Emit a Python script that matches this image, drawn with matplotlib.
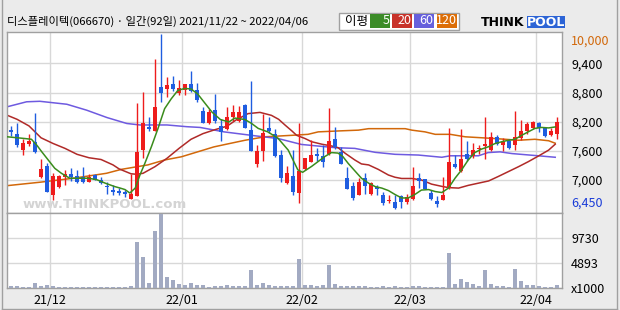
import matplotlib
matplotlib.use("Agg")
import matplotlib.pyplot as plt
from matplotlib.patches import Rectangle
from matplotlib.lines import Line2D

plt.rcParams['font.family'] = ['Noto Sans CJK KR', 'DejaVu Sans']

# 일봉 데이터 (2021/11/22 ~ 2022/04/06, 92 거래일)
opens = [8050, 7985, 7660, 7780, 7820, 7100, 7320, 6750, 6910, 7100,
         7170, 7130, 7100, 7000, 7150, 7050, 6930, 6850, 6830, 6810,
         6660, 6720, 7660, 8120, 8040, 8920, 8880, 9000, 8810, 8860,
         8990, 8860, 8450, 8190, 8470, 8130, 8070, 8320, 8250, 8570,
         8050, 7360, 7630, 8100, 7970, 7550, 6990, 7130, 6790, 7260,
         7400, 7580, 7540, 7570, 7880, 7620, 7090, 6930, 6750, 7080,
         6760, 6910, 6730, 6610, 6590, 6710, 6600, 6660, 7080, 7060,
         6780, 6610, 6640, 6880, 7370, 7230, 7580, 7530, 7670, 7730,
         7660, 7920, 7750, 7830, 7750, 7900, 8040, 8090, 8210, 8090,
         7950, 7970]
highs = [8130, 8200, 7885, 7980, 8400, 7470, 7380, 7180, 7150, 7240,
         7280, 7240, 7300, 7170, 7170, 7110, 7000, 6950, 6880, 6850,
         7170, 8610, 8820, 8320, 9490, 10000, 9130, 9150, 9070, 9000,
         9250, 9020, 8520, 8490, 8790, 8290, 8520, 8560, 8540, 8590,
         9060, 7750, 8390, 8320, 8070, 7650, 7320, 7650, 8200, 7500,
         7850, 7700, 7760, 8500, 8120, 7720, 7300, 7000, 7080, 7190,
         7010, 6950, 6810, 6730, 6750, 6750, 6760, 7300, 7190, 7060,
         6850, 6710, 7110, 8090, 7550, 8070, 7840, 7800, 7760, 8320,
         8020, 7950, 7890, 7870, 8440, 8270, 8230, 8250, 8220, 8100,
         8090, 8320]
lows = [7940, 7720, 7560, 7740, 7600, 7080, 6810, 6630, 6890, 6950,
        7030, 6980, 6980, 7000, 7040, 6970, 6760, 6730, 6750, 6700,
        6660, 6710, 7500, 8040, 8040, 8620, 8720, 8840, 8770, 8760,
        8820, 8620, 8190, 8170, 8190, 7830, 8050, 8250, 8220, 8090,
        7630, 7300, 7420, 7990, 7520, 7000, 6970, 6730, 6580, 7250,
        7400, 7430, 7300, 7550, 7670, 7370, 6860, 6630, 6750, 6760,
        6750, 6750, 6530, 6580, 6450, 6480, 6560, 6630, 6890, 6860,
        6630, 6500, 6630, 6860, 7280, 7210, 7430, 7500, 7580, 7480,
        7630, 7750, 7640, 7680, 7650, 7850, 7970, 8070, 8020, 7920,
        7940, 7880]
closes = [8010, 7760, 7800, 7830, 7620, 7260, 6810, 7130, 7130, 7170,
          7100, 7010, 7000, 7100, 7050, 6980, 6900, 6800, 6790, 6770,
          6760, 7620, 8200, 8070, 8520, 8810, 8970, 8880, 8900, 9000,
          8840, 8670, 8190, 8430, 8250, 8020, 8320, 8420, 8430, 8100,
          7630, 7630, 8000, 8040, 7540, 7090, 7190, 6800, 7230, 7500,
          7560, 7540, 7400, 7840, 7720, 7370, 6860, 6680, 7010, 6930,
          6990, 6860, 6580, 6640, 6480, 6600, 6690, 6930, 7030, 6860,
          6660, 6560, 6730, 7400, 7300, 7480, 7460, 7660, 7700, 7780,
          7920, 7780, 7820, 7700, 7920, 8040, 8170, 8230, 8090, 7940,
          8040, 8220]
volumes = [390, 390, 195, 195, 1040, 455, 650, 390, 260, 260,
           260, 260, 260, 260, 260, 260, 260, 260, 260, 260,
           455, 8840, 6045, 1040, 10985, 14300, 2145, 1625, 845, 650,
           1040, 650, 650, 260, 455, 455, 650, 455, 455, 455,
           3510, 650, 1040, 650, 455, 455, 455, 455, 5655, 650,
           585, 390, 585, 4485, 780, 455, 455, 455, 455, 455,
           260, 260, 455, 260, 455, 260, 260, 455, 455, 260,
           260, 260, 260, 6825, 780, 1755, 1170, 780, 455, 3510,
           780, 455, 455, 260, 3705, 1365, 650, 650, 455, 260,
           260, 585]

# 이동평균선 (그림에서 읽은 값: 봉 번호, 가격)
ma5_x = [-0.6, 2.3, 3.4, 4.3, 5.1, 6.2, 7.3, 8.4, 9.8, 11.2, 12.9, 14.3, 15.7, 17.3, 18.2,
         19.0, 19.8, 20.7, 21.5, 22.3, 23.4, 24.5, 25.6, 26.7, 27.8, 28.9, 30.0, 31.1, 32.2,
         33.5, 34.9, 36.3, 37.3, 39.0, 40.1, 41.2, 42.8, 44.5, 46.2, 47.0, 47.8, 48.6, 50.1,
         51.2, 52.3, 53.4, 54.5, 55.3, 56.2, 57.3, 58.4, 59.6, 60.7, 61.8, 62.9, 64.0, 65.1,
         66.2, 67.3, 68.4, 69.6, 70.7, 71.8, 72.9, 74.0, 75.1, 76.2, 77.3, 78.4, 79.6, 80.6,
         81.8, 82.9, 84.0, 85.1, 86.2, 87.3, 88.4, 89.6, 90.7]
ma5_y = [7920, 7885, 7870, 7750, 7620, 7450, 7280, 7180, 7080, 7080, 7080, 7050, 6980, 6910, 6880,
         6850, 6780, 6880, 7150, 7380, 7720, 8090, 8490, 8690, 8860, 8900, 8890, 8790, 8620,
         8420, 8270, 8220, 8300, 8270, 8190, 8090, 8020, 7890, 7650, 7450, 7250, 7200, 7320,
         7420, 7520, 7600, 7590, 7520, 7380, 7230, 7080, 6980, 6910, 6880, 6830, 6750, 6680,
         6680, 6750, 6840, 6850, 6810, 6790, 6880, 7080, 7250, 7450, 7600, 7670, 7720, 7780,
         7820, 7850, 7870, 7950, 8020, 8090, 8110, 8100, 8120]
ma20_x = [-0.6, 1, 3, 5, 7, 9, 11, 13, 15, 17, 18, 20, 21, 22, 24, 26, 28, 30, 32, 34, 36,
          37.5, 39.5, 41.5, 43.4, 44.6, 45.7, 46.8, 47.6, 49, 50.1, 51.8, 53.4, 54.5, 55.7,
          57.3, 58.4, 59.6, 61.2, 62.9, 64, 65.1, 66.8, 68.4, 70.1, 71.8, 72.9, 74.6, 76.2,
          77.9, 79.6, 81.2, 82.9, 84.6, 86.2, 87.9, 89.6, 90.7]
ma20_y = [8355, 8275, 8140, 7900, 7785, 7685, 7565, 7495, 7460, 7350, 7270, 7170, 7160, 7180,
          7315, 7485, 7685, 7870, 7985, 8065, 8135, 8260, 8390, 8415, 8355, 8275, 8155, 8040,
          7950, 7885, 7820, 7770, 7735, 7700, 7585, 7450, 7370, 7350, 7260, 7145, 7100, 7075,
          7075, 7045, 6960, 6915, 6890, 6880, 6935, 6980, 7025, 7115, 7215, 7315, 7415, 7530,
          7650, 7770]
ma60_x = [-0.6, 2.6, 4.8, 9.3, 12.6, 16.0, 19.3, 21.5, 26.0, 29.3, 31.5, 35.5, 40.7, 44.5,
          48.4, 54.0, 57.3, 60.7, 64.0, 67.9, 71.8, 73.2, 77.9, 79.5, 81.5, 83.5, 87.9, 90.7]
ma60_y = [8530, 8630, 8640, 8580, 8460, 8310, 8190, 8160, 8160, 8125, 8110, 8020, 7940, 7885,
          7765, 7700, 7685, 7605, 7565, 7550, 7505, 7535, 7535, 7600, 7615, 7580, 7535, 7505]
ma120_x = [-0.6, 4.9, 10.4, 15.9, 18.4, 22.8, 25.6, 28.4, 31.1, 33.8, 35.7, 39.0, 42.3, 46.8,
           49.5, 51.2, 54.8, 57.9, 59.6, 65.7, 66.8, 69.0, 70.7, 73.2, 75.7, 80.6, 84.6, 87.3,
           89.6, 90.7]
ma120_y = [6930, 7000, 7080, 7180, 7260, 7350, 7450, 7515, 7615, 7715, 7765, 7850, 7920, 7950,
           7970, 8020, 8040, 8055, 8085, 8085, 8055, 8020, 7970, 7970, 7920, 7885, 7850, 7870,
           7840, 7790]

# 월 시작 봉 번호와 라벨
month_idx = [7, 29, 49, 67, 88]
month_labels = ["21/12", "22/01", "22/02", "22/03", "22/04"]

price_grid = [6450 + (10000 - 6450) * k / 6 for k in range(1, 6)]
vol_ticks = [0, 4893, 9730]

W, H = 620, 310
def rect(x0, y0, x1, y1):
    return [x0 / W, 1 - y1 / H, (x1 - x0) / W, (y1 - y0) / H]

up_c = '#ee1c1c'
dn_c = '#1f5de0'
grid_c = '#d8d8d8'
edge_c = '#a0a0a0'

fig = plt.figure(figsize=(6.2, 3.1), dpi=100)
fig.patch.set_facecolor('#ebebeb')

ax = fig.add_axes(rect(7, 32, 562, 213))
axv = fig.add_axes(rect(7, 213, 562, 288), sharex=ax)

n = len(closes)
xs = list(range(n))
for i in xs:
    o, c = opens[i], closes[i]
    col = up_c if c >= o else dn_c
    ax.vlines(i, lows[i], highs[i], color=col, lw=1, zorder=3)
    ax.bar(i, max(abs(c - o), 14), bottom=min(o, c), width=0.72, color=col, lw=0, zorder=4)

ax.plot(ma120_x, ma120_y, color='#d2680a', lw=1.1, zorder=2)
ax.plot(ma60_x, ma60_y, color='#6e5ae0', lw=1.1, zorder=2)
ax.plot(ma20_x, ma20_y, color='#b02a28', lw=1.1, zorder=2)
ax.plot(ma5_x, ma5_y, color='#3a8c1c', lw=1.1, zorder=5)

ax.set_xlim(-0.67, 91.83)
ax.set_ylim(6375, 10045)
ax.set_yticks(price_grid)
ax.set_yticklabels([f"{round(v, -2):,.0f}" for v in price_grid])
ax.yaxis.tick_right()
ax.tick_params(axis='y', length=0, pad=6.5, labelsize=9)
ax.tick_params(axis='x', length=0, labelbottom=False)
ax.set_xticks([m - 0.5 for m in month_idx])
ax.grid(True, color=grid_c, lw=1, zorder=0)
ax.text(1.016, 10000, "10,000", color='#d2680a', fontsize=9, va='top', ha='left',
        transform=ax.get_yaxis_transform(), clip_on=False)
ax.text(1.016, 6450, "6,450", color='#1a3cd8', fontsize=9, va='bottom', ha='left',
        transform=ax.get_yaxis_transform(), clip_on=False)
ax.text(2, 6470, "www.THINKPOOL.com", color='#d4d4d4', fontsize=9.5, fontweight='bold',
        family='DejaVu Sans', zorder=1)

axv.bar(xs, volumes, width=0.72, color='#a2aac2', lw=0, zorder=3)
axv.set_ylim(0, 14500)
axv.set_yticks(vol_ticks)
axv.set_yticklabels(["x1000", "4893", "9730"])
axv.yaxis.tick_right()
axv.tick_params(axis='y', length=0, pad=6.5, labelsize=9)
axv.set_xticks([m - 0.5 for m in month_idx])
axv.set_xticklabels(month_labels)
axv.tick_params(axis='x', length=0, pad=4, labelsize=9)
axv.grid(True, color=grid_c, lw=1, zorder=0)

for a in (ax, axv):
    a.set_facecolor('white')
    for s in a.spines.values():
        s.set_color(edge_c)
        s.set_linewidth(1)

# 제목
fig.text(7 / W, 1 - 21 / H, "디스플레이텍(066670) · 일간(92일) 2021/11/22 ~ 2022/04/06",
         fontsize=8.1, va='center', ha='left')

# 이평 범례
fig.patches.append(Rectangle((339 / W, 1 - 29.5 / H), 120 / W, 17 / H, transform=fig.transFigure,
                             facecolor='white', edgecolor=edge_c, lw=1))
fig.text(345 / W, 1 - 21 / H, "이평", fontsize=9, va='center', ha='left')
legend = [("5", '#3c8c28', 370), ("20", '#c8322a', 392), ("60", '#6660dc', 414), ("120", '#dc6e08', 437)]
for lab, col, x0 in legend:
    fig.patches.append(Rectangle((x0 / W, 1 - 27.5 / H), 20 / W, 13.5 / H, transform=fig.transFigure,
                                 facecolor=col, edgecolor='none'))
    fig.text((x0 + 19.5) / W, 1 - 21 / H, lab, fontsize=9, color='white', va='center', ha='right')

# 로고
fig.text(481 / W, 1 - 22 / H, "THINK", fontsize=9, fontweight='bold', family='DejaVu Sans',
         va='center', ha='left')
fig.patches.append(Rectangle((527 / W, 1 - 27.5 / H), 38 / W, 11.5 / H, transform=fig.transFigure,
                             facecolor='#2c64d6', edgecolor='none'))
fig.text(546 / W, 1 - 22 / H, "POOL", fontsize=9, fontweight='bold', family='DejaVu Sans',
         color='white', va='center', ha='center')

# 바깥 테두리
for xy in [([1.5, 1.5], [0, 308.5]), ([617, 617], [0, 308.5]), ([1.5, 617], [308.5, 308.5])]:
    fig.lines.append(Line2D([v / W for v in xy[0]], [1 - v / H for v in xy[1]],
                            transform=fig.transFigure, color=edge_c, lw=1))

fig.savefig("out.png", dpi=100, facecolor=fig.get_facecolor())
